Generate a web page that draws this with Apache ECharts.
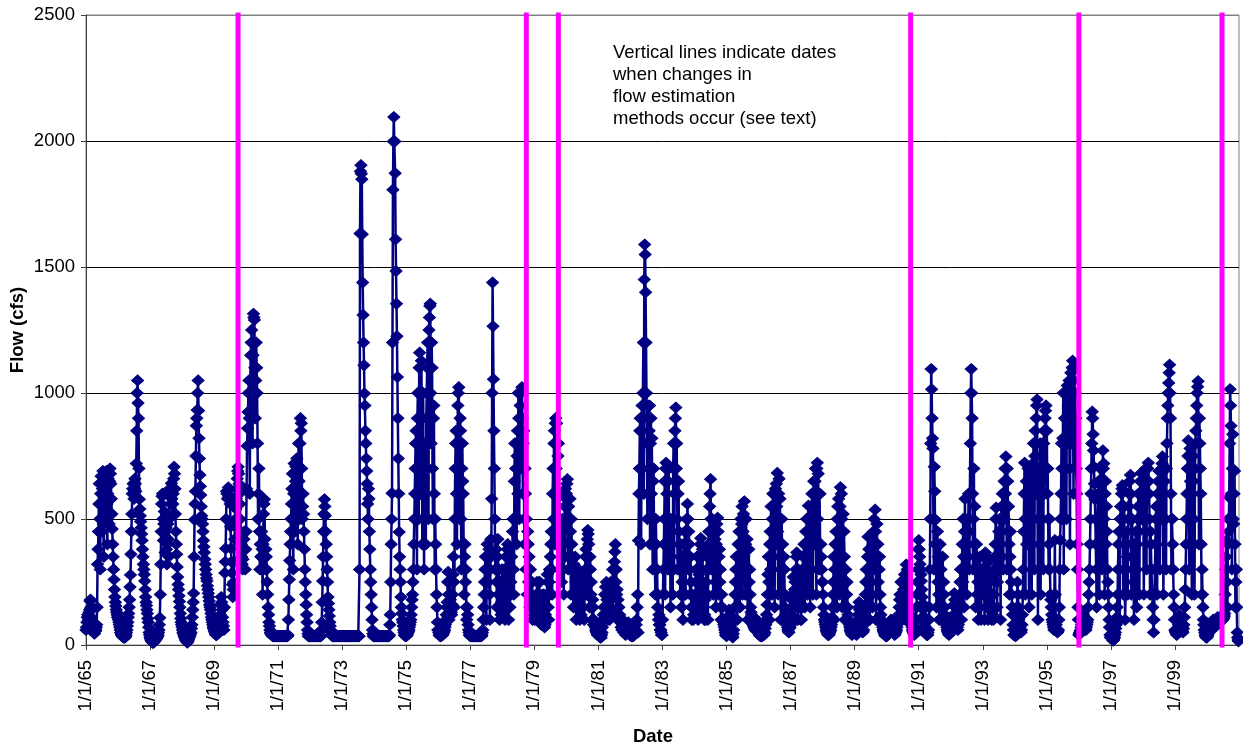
<!DOCTYPE html>
<html>
<head>
<meta charset="utf-8">
<script src="https://cdn.jsdelivr.net/npm/echarts/dist/echarts.min.js"></script>
<style>
  html, body { margin: 0; padding: 0; background: #fff; }
  #chart { width: 1243px; height: 750px; }
</style>
</head>
<body>
<div id="chart"></div>
<script>
// Flow (cfs), one value about every five days (72 per calendar year)
const q1965 = [60,70, 90,110, 120,90, 100,130, 140,175, 180,150, 110,95, 80,70, 60,55, 50,45, 60,55, 60,70, 80,150, 320,380, 450,560, 640,500, 300,600, 670,560, 450,620, 690,480, 350,520, 650,580, 500,640, 690,560, 400,600, 660,530, 480,650, 700,680, 640,580, 520,460, 400,350, 300,260, 220,190, 170,155, 140,130, 120,110];
const q1966 = [110,100, 90,80, 70,60, 50,45, 40,38, 35,32, 30,30, 30,30, 30,35, 40,50, 60,75, 90,110, 125,150, 180,230, 278,360, 450,520, 600,620, 640,600, 580,620, 660,640, 610,720, 850,1000, 1050,960, 900,700, 578,540, 513,490, 465,440, 415,380, 350,320, 300,280, 254,220, 190,170, 157,140, 125,105, 90,70, 50,40];
const q1967 = [30,25, 20,18, 15,12, 10,10, 10,12, 15,18, 20,22, 25,28, 30,35, 40,50, 60,80, 108,200, 320,450, 560,590, 600,500, 415,480, 530,450, 367,420, 465,380, 320,400, 480,420, 350,500, 620,590, 560,610, 642,580, 513,560, 600,660, 707,680, 620,520, 450,400, 360,310, 270,240, 220,195, 173,150, 125,105, 90,80];
const q1968 = [70,60, 50,45, 40,35, 30,25, 20,18, 15,12, 10,15, 20,25, 30,35, 40,45, 50,65, 80,110, 140,170, 205,350, 497,560, 610,750, 870,900, 933,1000, 1050,930, 820,740, 675,630, 595,550, 513,500, 480,450, 415,390, 367,340, 320,300, 280,265, 254,235, 220,205, 190,175, 160,150, 140,125, 110,100, 90,80, 70,65];
const q1969 = [60,55, 50,45, 40,40, 40,45, 50,55, 60,70, 80,100, 120,160, 190,170, 140,110, 90,75, 60,150, 286,330, 383,500, 610,600, 580,610, 625,590, 595,580, 560,470, 383,330, 286,240, 190,220, 250,330, 420,470, 500,540, 580,620, 660,690, 707,680, 640,600, 560,500, 450,400, 350,320, 300,340, 380,420, 450,380, 300,380];
const q1970 = [450,620, 790,860, 925,1000, 1050,900, 600,1050, 1150,1200, 1250,1000, 800,1150, 1314,1300, 1290,1100, 900,1050, 1200,1100, 1000,800, 500,600, 700,450, 300,400, 350,300, 450,380, 200,400, 520,560, 578,420, 300,380, 350,300, 250,200, 150,120, 90,75, 60,50, 45,42, 40,38, 35,35, 35,35, 35,35, 35,35, 35,35, 35,35];
const q1971 = [35,35, 35,35, 35,35, 35,35, 35,35, 35,35, 35,35, 35,35, 35,35, 35,35, 35,35, 40,100, 180,260, 335,400, 450,500, 560,620, 680,500, 300,600, 720,600, 450,650, 707,720, 740,550, 400,700, 800,650, 500,800, 900,850, 880,700, 500,550, 600,520, 450,380, 300,250, 200,160, 120,90, 60,45, 35,35, 35,35];
const q1972 = [35,35, 35,35, 35,35, 35,35, 35,35, 35,35, 35,35, 35,35, 35,35, 35,35, 35,35, 35,35, 35,60, 90,170, 254,350, 450,520, 578,550, 513,450, 400,350, 300,250, 190,165, 140,115, 90,75, 60,50, 40,38, 35,35, 35,35, 35,35, 35,35, 35,35, 35,35, 35,35, 35,35, 35,35, 35,35, 35,35];
const q1973 = [35,35, 35,35, 35,35, 35,35, 35,35, 35,35, 35,35, 35,35, 35,35, 35,35, 35,35, 35,35, 35,35, 35,35, 35,35, 35,35, 35,35, 35,35, 35,35, 35,300, 1633,1880, 1904,1870, 1848,1630, 1438,1310, 1200,1110, 998,950, 850,800, 740,690, 640,560, 500,620, 580,450, 380,300, 250,200, 150,100, 60,45, 35,35];
const q1974 = [35,35, 35,35, 35,35, 35,35, 35,35, 35,35, 35,35, 35,35, 35,35, 35,35, 35,35, 35,35, 35,35, 35,35, 35,35, 35,35, 35,35, 40,80, 120,250, 400,500, 602,1200, 1807,1998, 2095,2000, 1998,1872, 1610,1484, 1354,1225, 1063,900, 740,600, 448,350, 300,250, 190,150, 125,100, 90,75, 60,50, 40,38, 35,35];
const q1975 = [35,38, 40,45, 50,55, 60,70, 80,90, 100,120, 150,180, 200,250, 300,400, 500,600, 700,800, 850,600, 300,900, 1000,700, 500,1100, 1160,800, 600,1000, 1128,900, 400,800, 1000,600, 300,700, 800,500, 400,900, 1000,1100, 1200,800, 500,1250, 1300,1345, 1354,1000, 800,1200, 1100,700, 500,900, 950,600, 300,500, 400,300, 200,150, 90,60];
const q1976 = [60,50, 40,38, 35,35, 35,38, 40,40, 40,45, 50,55, 60,70, 80,100, 120,150, 170,250, 290,200, 100,200, 250,180, 150,130, 120,160, 200,280, 350,250, 150,500, 700,800, 850,600, 400,800, 950,1000, 1023,700, 500,900, 850,500, 300,700, 800,650, 600,400, 200,350, 400,250, 300,150, 100,150, 120,80, 60,50, 40,38];
const q1977 = [35,35, 35,35, 35,35, 35,35, 35,35, 35,35, 35,35, 35,35, 35,35, 35,35, 35,35, 35,35, 35,35, 40,50, 60,100, 150,200, 250,300, 350,200, 100,300, 400,300, 250,350, 380,200, 100,300, 420,350, 580,1000, 1438,1265, 1055,850, 700,500, 300,420, 380,250, 150,350, 420,200, 300,150, 100,250, 200,120, 170,300];
const q1978 = [150,200, 250,120, 300,200, 100,250, 350,150, 250,380, 400,200, 100,300, 250,150, 350,250, 200,350, 300,450, 500,300, 200,650, 800,500, 700,800, 400,750, 850,600, 1000,900, 500,800, 950,700, 1000,800, 1023,900, 600,800, 850,500, 400,700, 600,300, 500,400, 200,450, 400,250, 350,200, 150,300, 250,150, 200,250, 100,180, 150,120];
const q1979 = [140,100, 120,180, 200,150, 250,120, 100,200, 150,250, 250,120, 180,100, 80,150, 200,100, 150,200, 100,70, 80,120, 150,100, 200,280, 250,150, 100,250, 300,200, 350,400, 450,300, 200,600, 700,500, 800,850, 400,880, 900,700, 880,800, 500,750, 800,400, 600,500, 300,450, 420,250, 350,500, 450,300, 200,400, 550,350, 620,580];
const q1980 = [600,640, 658,500, 300,550, 500,350, 580,450, 200,500, 400,300, 350,200, 150,320, 300,200, 350,250, 100,200, 250,150, 200,300, 280,150, 100,200, 250,120, 150,250, 200,150, 290,200, 100,250, 300,350, 380,300, 200,420, 456,440, 400,300, 150,350, 300,200, 250,150, 100,180, 150,80, 100,90, 80,70, 60,55, 50,45, 40,40];
const q1981 = [40,38, 35,32, 30,30, 30,40, 50,70, 100,120, 150,100, 200,150, 230,120, 250,180, 200,100, 180,140, 150,100, 200,150, 250,180, 200,120, 300,200, 250,300, 330,370, 400,250, 300,200, 220,150, 180,120, 150,100, 120,90, 100,70, 90,60, 80,100, 70,50, 60,80, 50,40, 60,70, 80,60, 70,90, 60,50, 40,40];
const q1982 = [40,38, 35,35, 35,35, 35,38, 40,45, 50,55, 60,80, 100,150, 200,50, 415,600, 700,850, 900,600, 400,900, 950,700, 1000,1200, 600,1450, 1589,1550, 1400,1200, 1000,800, 500,900, 950,600, 850,950, 400,800, 900,600, 820,500, 300,650, 700,400, 500,300, 200,500, 400,200, 300,150, 200,100, 120,80, 80,60, 60,50, 40,40];
const q1983 = [100,200, 300,400, 500,650, 200,700, 723,500, 600,400, 300,650, 700,300, 400,500, 150,300, 350,450, 500,200, 700,800, 300,600, 850,900, 942,700, 800,500, 300,600, 650,450, 400,300, 200,400, 350,150, 250,350, 100,300, 400,200, 450,350, 200,450, 500,400, 560,500, 300,450, 400,300, 200,350, 250,150, 100,200, 150,100, 120,150];
const q1984 = [120,160, 200,250, 300,200, 351,300, 100,250, 280,150, 300,400, 424,300, 150,350, 380,200, 250,150, 100,120, 180,100, 250,300, 350,200, 100,400, 450,300, 550,600, 658,500, 300,450, 500,350, 200,300, 350,400, 420,250, 150,400, 480,300, 505,450, 200,350, 380,250, 300,150, 100,200, 150,100, 100,90, 80,70, 60,50, 40,40];
const q1985 = [35,40, 50,65, 80,110, 140,120, 100,80, 60,50, 40,35, 30,45, 60,100, 150,200, 250,300, 350,200, 100,350, 400,250, 450,350, 150,450, 500,300, 480,550, 200,450, 520,350, 570,500, 200,400, 500,300, 420,200, 100,300, 380,250, 300,200, 150,130, 120,110, 100,90, 80,75, 70,65, 60,70, 80,90, 100,80, 60,50];
const q1986 = [50,45, 40,38, 35,35, 35,35, 35,38, 40,40, 40,45, 50,65, 80,100, 120,160, 200,280, 350,250, 100,400, 450,300, 550,400, 200,500, 600,350, 550,600, 150,500, 620,400, 640,550, 683,450, 200,600, 660,400, 580,300, 100,400, 500,300, 400,200, 150,350, 300,150, 200,120, 100,90, 80,70, 60,55, 50,65, 80,70];
const q1987 = [80,120, 150,180, 200,100, 270,200, 100,220, 250,150, 300,350, 367,200, 100,300, 280,150, 200,250, 250,100, 100,200, 300,150, 350,300, 400,200, 150,400, 450,300, 500,400, 200,500, 553,300, 450,500, 150,450, 550,300, 600,500, 200,600, 650,400, 550,650, 700,400, 200,700, 723,500, 680,400, 300,600, 600,300, 400,350, 300,250];
const q1988 = [250,200, 150,120, 100,90, 80,70, 60,55, 50,45, 40,40, 40,45, 50,55, 60,70, 80,110, 150,200, 250,350, 100,300, 400,250, 450,400, 150,500, 550,400, 580,300, 200,550, 626,450, 600,500, 150,450, 520,300, 450,350, 100,250, 300,150, 200,250, 150,120, 100,90, 80,70, 60,55, 50,45, 40,45, 50,55, 60,70];
const q1989 = [60,55, 50,45, 40,60, 80,100, 120,150, 170,140, 120,100, 80,70, 60,55, 50,55, 60,80, 100,150, 200,250, 300,200, 100,350, 430,300, 380,250, 100,200, 300,250, 350,200, 150,400, 450,300, 500,400, 537,450, 100,400, 480,300, 400,250, 200,300, 350,200, 150,120, 100,90, 80,70, 60,55, 50,45, 40,38, 35,35];
const q1990 = [35,38, 40,45, 50,55, 60,70, 80,90, 100,90, 80,70, 60,55, 50,45, 40,45, 50,55, 60,70, 80,90, 100,120, 150,180, 200,150, 250,200, 100,150, 180,120, 220,250, 280,150, 100,250, 319,200, 300,250, 150,200, 250,150, 200,150, 120,100, 80,70, 60,55, 50,45, 40,45, 50,70, 100,150, 200,250, 300,380];
const q1991 = [416,380, 350,320, 300,280, 254,220, 190,165, 140,115, 90,75, 60,55, 50,45, 40,40, 40,50, 60,100, 150,300, 500,800, 1095,1015, 900,820, 780,500, 300,707, 610,400, 497,300, 150,400, 450,250, 350,200, 100,300, 400,200, 300,150, 100,250, 350,150, 250,200, 150,120, 100,90, 80,70, 60,55, 50,45, 40,45, 50,60];
const q1992 = [50,55, 60,70, 80,100, 120,160, 205,180, 150,120, 100,90, 80,70, 60,80, 100,150, 200,250, 300,200, 100,300, 400,250, 500,350, 150,450, 580,350, 450,300, 200,400, 500,350, 600,450, 300,600, 800,1000, 1095,1000, 900,600, 300,500, 700,400, 550,300, 150,350, 400,200, 350,250, 100,200, 300,150, 350,250, 100,200, 250,300];
const q1993 = [300,200, 350,250, 100,300, 367,200, 250,150, 350,250, 100,200, 330,250, 250,150, 280,200, 100,150, 200,120, 100,200, 300,350, 400,500, 545,300, 150,250, 300,400, 450,300, 500,400, 100,450, 550,350, 600,500, 300,600, 650,500, 700,600, 748,650, 300,700, 650,450, 550,400, 200,350, 450,300, 250,200, 150,120, 80,60, 40,38];
const q1994 = [40,38, 35,40, 60,150, 250,200, 150,100, 80,70, 60,55, 50,60, 80,120, 200,300, 450,600, 723,500, 200,600, 650,400, 400,650, 700,500, 150,600, 680,400, 600,700, 200,600, 720,500, 800,600, 300,750, 850,600, 900,950, 974,600, 100,500, 700,400, 600,800, 200,600, 750,500, 800,700, 300,800, 850,600, 900,930, 950,700];
const q1995 = [850,600, 700,500, 300,400, 500,300, 200,180, 150,120, 100,90, 80,70, 60,200, 416,200, 100,80, 60,55, 50,55, 60,100, 150,300, 416,500, 600,800, 700,500, 820,1000, 300,800, 900,700, 1000,900, 500,1000, 1030,800, 950,1000, 1050,700, 400,900, 1080,800, 1000,1100, 1128,900, 600,1050, 1100,800, 1000,900, 700,600, 400,300, 150,100];
const q1996 = [40,45, 50,55, 60,70, 80,90, 100,110, 120,110, 100,90, 80,70, 60,70, 80,90, 100,150, 200,250, 300,400, 500,600, 700,800, 926,900, 836,772, 707,640, 578,500, 400,300, 150,400, 500,600, 650,400, 200,500, 700,600, 650,500, 300,600, 772,700, 720,500, 200,600, 650,400, 550,450, 300,250, 200,150, 100,70, 40,30];
const q1997 = [40,35, 30,25, 20,18, 20,25, 30,40, 50,65, 80,110, 150,200, 300,400, 450,300, 100,500, 550,450, 600,620, 634,500, 200,450, 550,300, 100,200, 300,400, 450,350, 200,500, 550,600, 650,500, 675,600, 200,400, 500,300, 400,250, 100,200, 300,400, 450,300, 150,400, 500,550, 600,450, 200,550, 650,600, 683,500, 650,600];
const q1998 = [600,500, 200,600, 650,500, 700,600, 300,650, 650,700, 723,650, 600,500, 200,450, 400,300, 300,200, 150,100, 50,100, 200,300, 400,500, 550,400, 200,600, 650,500, 690,600, 300,550, 650,500, 700,720, 748,600, 200,500, 600,650, 700,500, 300,700, 800,900, 950,1000, 1040,1080, 1112,1000, 900,600, 300,500, 500,400, 300,200, 150,100];
const q1999 = [60,55, 50,45, 40,45, 50,65, 80,100, 120,110, 100,90, 80,70, 60,55, 50,65, 80,110, 150,220, 300,400, 500,600, 700,750, 812,600, 300,700, 780,650, 600,500, 200,600, 750,650, 500,400, 200,700, 800,850, 900,950, 1000,1025, 1047,800, 400,900, 800,700, 600,400, 200,300, 200,150, 100,80, 60,50, 40,35, 30,30];
const q2000 = [30,35, 40,45, 50,55, 60,65, 70,75, 80,85, 90,95, 100,90, 80,75, 70,75, 80,90, 100,105, 110,105, 100,105, 110,100, 90,95, 100,105, 110,105, 100,105, 110,115, 125,200, 300,350, 415,250, 150,400, 500,450, 586,800, 1015,950, 870,600, 300,700, 836,500, 480,600, 690,400, 150,250, 300,150, 50,30, 20,15];

const firstYear = 1965;
const flowByYear = [q1965, q1966, q1967, q1968, q1969, q1970, q1971, q1972, q1973, q1974,
                    q1975, q1976, q1977, q1978, q1979, q1980, q1981, q1982, q1983, q1984,
                    q1985, q1986, q1987, q1988, q1989, q1990, q1991, q1992, q1993, q1994,
                    q1995, q1996, q1997, q1998, q1999, q2000];

// Dates when the flow estimation method changed
const changeDates = ['1969-10-01', '1978-10-01', '1979-10-01', '1990-10-01', '1996-01-01', '2000-06-21'];

const flowTicks = [0, 500, 1000, 1500, 2000, 2500];
const noteLines = ['Vertical lines indicate dates', 'when changes in', 'flow estimation', 'methods occur (see text)'];

// x is measured in years after 1 Jan 1965
function yearsSinceStart(iso) {
  const d = new Date(iso + 'T00:00:00Z');
  const y = d.getUTCFullYear();
  const a = Date.UTC(y, 0, 1), b = Date.UTC(y + 1, 0, 1);
  return (y - firstYear) + (d.getTime() - a) / (b - a);
}

const flowPoints = [];
flowByYear.forEach((vals, k) => {
  vals.forEach((v, i) => flowPoints.push([k + i / vals.length, v]));
});

const changePoints = [];
changeDates.forEach(s => {
  const t = yearsSinceStart(s);
  changePoints.push([t, flowTicks[0]], [t, flowTicks[flowTicks.length - 1]], [t, '-']);
});

const FONT = '"Liberation Sans", Arial, Helvetica, sans-serif';
const chart = echarts.init(document.getElementById('chart'), null, { renderer: 'canvas' });

chart.setOption({
  animation: false,
  backgroundColor: '#ffffff',
  grid: {
    left: 86, right: 4, top: 15, bottom: 105,
    show: true, borderColor: '#808080', borderWidth: 1, backgroundColor: '#ffffff'
  },
  xAxis: {
    type: 'value',
    min: 0, max: 36, interval: 2,
    axisLine: { show: true, onZero: false, lineStyle: { color: '#404040', width: 1 } },
    axisTick: { show: true, length: 5, lineStyle: { color: '#404040' } },
    splitLine: { show: false },
    axisLabel: {
      rotate: 90, margin: 15, color: '#000', fontSize: 18.5, fontFamily: FONT,
      showMaxLabel: false,
      formatter: v => (v % 2 === 0 && v < 36) ? '1/1/' + String((firstYear + v) % 100).padStart(2, '0') : ''
    }
  },
  yAxis: {
    type: 'value',
    min: flowTicks[0], max: flowTicks[flowTicks.length - 1], interval: 500,
    axisLine: { show: true, lineStyle: { color: '#404040', width: 1 } },
    axisTick: { show: true, length: 5, lineStyle: { color: '#404040' } },
    splitLine: { show: true, lineStyle: { color: ['#404040', '#000', '#000', '#000', '#000', '#808080'], width: 1 } },
    axisLabel: { margin: 11, color: '#000', fontSize: 18.5, fontFamily: FONT, formatter: v => String(v) }
  },
  series: [
    {
      name: 'Flow',
      type: 'line',
      data: flowPoints,
      showSymbol: true,
      showAllSymbol: true,
      symbol: 'diamond',
      symbolSize: [12, 11],
      itemStyle: { color: '#000080', borderColor: '#000080', borderWidth: 1 },
      lineStyle: { color: '#000080', width: 2.5 },
      z: 2
    },
    {
      name: 'Method change',
      type: 'line',
      data: changePoints,
      showSymbol: false,
      connectNulls: false,
      clip: false,
      lineStyle: { color: '#FF00FF', width: 5, cap: 'square' },
      z: 4
    }
  ],
  graphic: [
    {
      type: 'text', left: 613, top: 42, silent: true,
      style: { text: noteLines.join('\n'), fill: '#000', font: '18.5px ' + FONT, lineHeight: 22 }
    },
    {
      type: 'text', x: 18, y: 330, rotation: Math.PI / 2, silent: true,
      style: { text: 'Flow (cfs)', fill: '#000', font: 'bold 18.5px ' + FONT, align: 'center', verticalAlign: 'middle' }
    },
    {
      type: 'text', x: 653, y: 737, silent: true,
      style: { text: 'Date', fill: '#000', font: 'bold 18.5px ' + FONT, align: 'center', verticalAlign: 'middle' }
    }
  ]
});
</script>
</body>
</html>
